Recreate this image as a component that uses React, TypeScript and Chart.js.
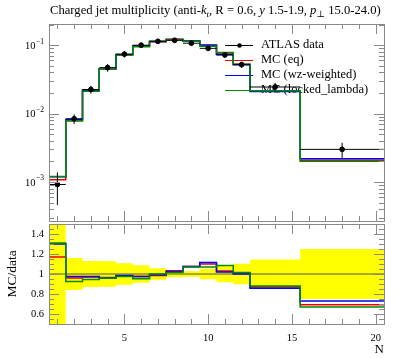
import React, { useEffect, useRef } from "react";
import { Chart, registerables } from "chart.js";
Chart.register(...registerables);

// ---------- data ----------
const binEdges = [0.5, 1.5, 2.5, 3.5, 4.5, 5.5, 6.5, 7.5, 8.5, 9.5, 10.5, 11.5, 12.5, 15.5, 20.5];
const binCenters = [1, 2, 3, 4, 5, 6, 7, 8, 9, 10, 11, 12, 14, 18];
const dataValues = [9.2e-4, 8.4e-3, 0.0225, 0.047, 0.074, 0.1, 0.114, 0.118, 0.107, 0.09, 0.072, 0.052, 0.0245, 0.003];
const dataRelErr = [0.5, 0.16, 0.13, 0.127, 0.107, 0.087, 0.057, 0.032, 0.028, 0.053, 0.083, 0.103, 0.145, 0.25];
const ratioEq = [1.17, 0.96, 0.97, 0.965, 0.98, 0.975, 0.985, 1.033, 1.075, 1.1, 1.03, 1.01, 0.87, 0.693];
const ratioWz = [1.3, 0.975, 0.975, 0.96, 0.985, 0.975, 0.993, 1.025, 1.075, 1.116, 1.02, 1.0, 0.858, 0.73];
const ratioLocked = [1.31, 0.925, 0.945, 0.96, 0.975, 0.953, 1.0, 1.016, 1.07, 1.07, 1.086, 1.016, 0.88, 0.67];

const seriesLabels = ["ATLAS data", "MC (eq)", "MC (wz-weighted)", "MC (locked_lambda)"];
const seriesColors = ["#000000", "#ee0000", "#0000ff", "#008a00"];

const xTickValues = [5, 10, 15, 20];
const logDecades = [-3, -2, -1];
const ratioTickValues = [0.6, 0.8, 1.0, 1.2, 1.4];
const ratioTickLabels = ["0.6", "0.8", "1", "1.2", "1.4"];

const FONT = '"Liberation Serif", "DejaVu Serif", serif';
const FRAME = "#8a8a8a";

// ---------- helpers ----------
function steps(vals: number[]) {
  const pts: { x: number; y: number }[] = [];
  vals.forEach((v, i) => {
    pts.push({ x: binEdges[i], y: v });
    pts.push({ x: binEdges[i + 1], y: v });
  });
  return pts;
}

function errorSegments() {
  const pts: { x: number; y: number | null }[] = [];
  dataValues.forEach((d, i) => {
    pts.push({ x: binEdges[i], y: d });
    pts.push({ x: binEdges[i + 1], y: d });
    pts.push({ x: binCenters[i], y: null });
    pts.push({ x: binCenters[i], y: d * (1 - dataRelErr[i]) });
    pts.push({ x: binCenters[i], y: d * (1 + dataRelErr[i]) });
    pts.push({ x: binCenters[i], y: null });
  });
  return pts;
}

function xTicks(ctx: CanvasRenderingContext2D, chart: any) {
  const { left, right, top, bottom } = chart.chartArea;
  const xs = chart.scales.x;
  ctx.strokeStyle = FRAME;
  ctx.lineWidth = 1;
  for (let v = 1; v <= 20; v++) {
    const px = Math.round(xs.getPixelForValue(v)) + 0.5;
    const len = v % 5 === 0 ? 10 : 5;
    ctx.beginPath();
    ctx.moveTo(px, top);
    ctx.lineTo(px, top + len);
    ctx.moveTo(px, bottom);
    ctx.lineTo(px, bottom - len);
    ctx.stroke();
  }
  ctx.strokeRect(Math.round(left) + 0.5, Math.round(top) + 0.5, Math.round(right - left), Math.round(bottom - top));
}

function yTick(ctx: CanvasRenderingContext2D, chart: any, py: number, len: number) {
  const { left, right } = chart.chartArea;
  const y = Math.round(py) + 0.5;
  ctx.beginPath();
  ctx.moveTo(left, y);
  ctx.lineTo(left + len, y);
  ctx.moveTo(right, y);
  ctx.lineTo(right - len, y);
  ctx.stroke();
}

type Seg = { t: string; it?: boolean; sub?: boolean };
const titleSegs: Seg[] = [
  { t: "Charged jet multiplicity (anti-" },
  { t: "k", it: true },
  { t: "t", it: true, sub: true },
  { t: ", R = 0.6, " },
  { t: "y", it: true },
  { t: " 1.5-1.9, " },
  { t: "p", it: true },
  { t: "\u22A5", sub: true },
  { t: " 15.0-24.0)" },
];

function segFont(s: Seg, size: number) {
  return `${s.it ? "italic " : ""}${s.sub ? (size * 0.72).toFixed(2) : size.toFixed(2)}px ${FONT}`;
}

function drawTitle(ctx: CanvasRenderingContext2D, x0: number, x1: number, baseline: number) {
  let size = 12;
  let w = 0;
  titleSegs.forEach((s) => {
    ctx.font = segFont(s, size);
    w += ctx.measureText(s.t).width;
  });
  size = (size * (x1 - x0)) / w;
  let x = x0;
  ctx.fillStyle = "#000";
  ctx.textAlign = "left";
  ctx.textBaseline = "alphabetic";
  titleSegs.forEach((s) => {
    ctx.font = segFont(s, size);
    ctx.fillText(s.t, x, baseline + (s.sub ? size * 0.22 : 0));
    x += ctx.measureText(s.t).width;
  });
}

const mainPlugin = {
  id: "mainDecor",
  beforeDatasetsDraw(chart: any) {
    const ctx: CanvasRenderingContext2D = chart.ctx;
    ctx.save();
    // legend
    const rows = [44.5, 59.5, 74.5, 89.5];
    seriesLabels.forEach((lab, i) => {
      const y = Math.round(rows[i]) + 0.5;
      ctx.strokeStyle = seriesColors[i];
      ctx.lineWidth = 1;
      ctx.beginPath();
      ctx.moveTo(225, y);
      ctx.lineTo(253, y);
      ctx.stroke();
      if (i === 0) {
        ctx.fillStyle = "#000";
        ctx.beginPath();
        ctx.arc(239.5, y, 2.3, 0, Math.PI * 2);
        ctx.fill();
      }
      ctx.fillStyle = "#000";
      ctx.font = `12.5px ${FONT}`;
      ctx.textAlign = "left";
      ctx.textBaseline = "middle";
      ctx.fillText(lab, 261, rows[i]);
    });
    ctx.restore();
  },
  afterDraw(chart: any) {
    const ctx: CanvasRenderingContext2D = chart.ctx;
    const ys = chart.scales.y;
    const { left } = chart.chartArea;
    ctx.save();
    xTicks(ctx, chart);
    ctx.strokeStyle = FRAME;
    for (let e = -4; e <= 0; e++) {
      for (let m = 1; m <= 9; m++) {
        const v = m * Math.pow(10, e);
        if (v < ys.min || v > ys.max) continue;
        yTick(ctx, chart, ys.getPixelForValue(v), m === 1 ? 10 : 5);
      }
    }
    ctx.fillStyle = "#000";
    logDecades.forEach((e) => {
      const py = ys.getPixelForValue(Math.pow(10, e));
      const sup = "\u2212" + Math.abs(e);
      ctx.font = `7.5px ${FONT}`;
      const sw = ctx.measureText(sup).width;
      ctx.textAlign = "left";
      ctx.textBaseline = "middle";
      const supX = left - 5 - sw;
      ctx.fillText(sup, supX, py - 3.5);
      ctx.font = `10.5px ${FONT}`;
      ctx.textAlign = "right";
      ctx.fillText("10", supX - 0.5, py + 1);
    });
    drawTitle(ctx, 50, 381, 14);
    ctx.restore();
  },
};

const ratioPlugin = {
  id: "ratioDecor",
  afterDraw(chart: any) {
    const ctx: CanvasRenderingContext2D = chart.ctx;
    const ys = chart.scales.y;
    const xs = chart.scales.x;
    const { left, right, bottom, top } = chart.chartArea;
    ctx.save();
    xTicks(ctx, chart);
    ctx.strokeStyle = FRAME;
    for (let k = 10; k <= 30; k++) {
      const v = k * 0.05;
      if (v < ys.min - 1e-9 || v > ys.max + 1e-9) continue;
      const major = k % 4 === 0 && k !== 10 && k !== 30;
      yTick(ctx, chart, ys.getPixelForValue(v), major ? 10 : 5);
    }
    ctx.fillStyle = "#000";
    ctx.font = `10.5px ${FONT}`;
    ctx.textAlign = "right";
    ctx.textBaseline = "middle";
    ratioTickValues.forEach((v, i) => {
      ctx.fillText(ratioTickLabels[i], left - 5, ys.getPixelForValue(v) + 0.5);
    });
    ctx.textAlign = "center";
    xTickValues.forEach((v) => {
      ctx.fillText(String(v), xs.getPixelForValue(v), bottom + 14);
    });
    ctx.font = `13px ${FONT}`;
    ctx.textAlign = "right";
    ctx.fillText("N", right, bottom + 26);
    ctx.save();
    ctx.translate(12, (top + bottom) / 2);
    ctx.rotate(-Math.PI / 2);
    ctx.textAlign = "center";
    ctx.font = `13.5px ${FONT}`;
    ctx.fillText("MC/data", 0, 0);
    ctx.restore();
    ctx.restore();
  },
};

const W = 397;
const MAIN_H = 226;
const RATIO_TOP = 224;
const RATIO_H = 358 - RATIO_TOP;

export default function App() {
  const mainRef = useRef<HTMLCanvasElement>(null);
  const ratioRef = useRef<HTMLCanvasElement>(null);

  useEffect(() => {
    const lineDs = (label: string, data: any[], color: string, width = 1.5) => ({
      label,
      data,
      borderColor: color,
      backgroundColor: color,
      borderWidth: width,
      pointRadius: 0,
      fill: false,
      tension: 0,
      spanGaps: false,
    });

    const main = new Chart(mainRef.current!, {
      type: "line",
      data: {
        datasets: [
          {
            label: "ATLAS data points",
            data: dataValues.map((v, i) => ({ x: binCenters[i], y: v })),
            showLine: false,
            pointRadius: 2.4,
            pointBackgroundColor: "#000",
            pointBorderColor: "#000",
            borderColor: "#000",
          } as any,
          lineDs("ATLAS data", errorSegments(), "#000", 1),
          lineDs(seriesLabels[3], steps(dataValues.map((d, i) => d * ratioLocked[i])), seriesColors[3]),
          lineDs(seriesLabels[2], steps(dataValues.map((d, i) => d * ratioWz[i])), seriesColors[2]),
          lineDs(seriesLabels[1], steps(dataValues.map((d, i) => d * ratioEq[i])), seriesColors[1]),
        ],
      },
      options: {
        animation: false,
        responsive: false,
        events: [],
        layout: { padding: { left: 49, right: 13, top: 24, bottom: MAIN_H - 224 } },
        plugins: { legend: { display: false }, tooltip: { enabled: false }, title: { display: false } },
        scales: {
          x: { type: "linear", min: 0.5, max: 20.5, display: false },
          y: { type: "logarithmic", min: Math.pow(10, -3.57), max: Math.pow(10, -0.69), display: false },
        },
      },
      plugins: [mainPlugin],
    });

    const ratio = new Chart(ratioRef.current!, {
      type: "line",
      data: {
        datasets: [
          lineDs(seriesLabels[3], steps(ratioLocked), seriesColors[3]),
          lineDs(seriesLabels[2], steps(ratioWz), seriesColors[2]),
          lineDs(seriesLabels[1], steps(ratioEq), seriesColors[1]),
          lineDs("reference", [{ x: 0.5, y: 1 }, { x: 20.5, y: 1 }], "#555", 1),
          {
            ...lineDs("band hi", steps(dataRelErr.map((e) => 1 + e)), "#ffff00", 0),
            fill: "+1",
            backgroundColor: "#ffff00",
          },
          lineDs("band lo", steps(dataRelErr.map((e) => 1 - e)), "#ffff00", 0),
        ],
      },
      options: {
        animation: false,
        responsive: false,
        events: [],
        layout: { padding: { left: 49, right: 13, top: 0, bottom: RATIO_H - 100 } },
        plugins: { legend: { display: false }, tooltip: { enabled: false }, title: { display: false } },
        scales: {
          x: { type: "linear", min: 0.5, max: 20.5, display: false },
          y: { type: "linear", min: 0.5, max: 1.5, display: false },
        },
      },
      plugins: [ratioPlugin],
    });

    return () => {
      main.destroy();
      ratio.destroy();
    };
  }, []);

  return (
    <div style={{ position: "absolute", left: 0, top: 0, width: W, height: 358, background: "#fff" }}>
      <canvas
        ref={mainRef}
        width={W}
        height={MAIN_H}
        style={{ position: "absolute", left: 0, top: 0, width: W, height: MAIN_H, display: "block" }}
      />
      <canvas
        ref={ratioRef}
        width={W}
        height={RATIO_H}
        style={{ position: "absolute", left: 0, top: RATIO_TOP, width: W, height: RATIO_H, display: "block" }}
      />
    </div>
  );
}
